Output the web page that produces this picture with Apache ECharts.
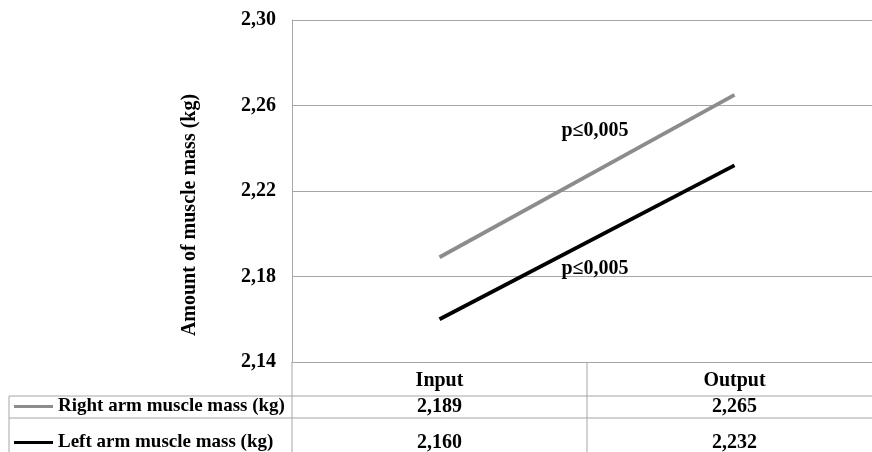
<!DOCTYPE html>
<html>
<head>
<meta charset="utf-8">
<script src="https://cdn.jsdelivr.net/npm/echarts@6/dist/echarts.min.js"></script>
<style>
html,body{margin:0;padding:0;background:#fff;overflow:hidden;}
#wrap{width:872px;height:452px;overflow:hidden;position:relative;}
#chart{width:882px;height:452px;position:absolute;left:0;top:0;}
</style>
</head>
<body>
<div id="wrap"><div id="chart"></div></div>
<script>
const categories = ['Input', 'Output'];
const seriesNames = ['Right arm muscle mass (kg)', 'Left arm muscle mass (kg)'];
const rightArm = [2.189, 2.265];
const leftArm = [2.160, 2.232];
const yMin = 2.14, yMax = 2.30, yStep = 0.04;
const yAxisTitle = 'Amount of muscle mass (kg)';
const annotText = ['p≤0,005', 'p≤0,005'];
const annotX = [0.527, 0.527];      // in category units (Input=0, Output=1)
const annotY = [2.248, 2.1835];

const FONT = '"Liberation Serif", "Times New Roman", serif';
const GRID_COLOR = '#a6a6a6';
const colors = ['#8c8c8c', '#000000'];
const fmt = (v, d) => v.toFixed(d).replace('.', ',');

const chart = echarts.init(document.getElementById('chart'), null, {renderer: 'canvas'});
const option = {
  animation: false,
  backgroundColor: '#ffffff',
  textStyle: {fontFamily: FONT},
  grid: {left: 292, right: 0, top: 20, bottom: 90, containLabel: false},
  legend: {
    orient: 'vertical', left: 14, top: 397, padding: 0,
    itemWidth: 39, itemHeight: 3, itemGap: 17, icon: 'rect',
    textStyle: {fontFamily: FONT, fontWeight: 'bold', fontSize: 19, color: '#000'},
    data: seriesNames
  },
  xAxis: [{
    type: 'category', data: categories, boundaryGap: true,
    axisLine: {show: true, onZero: false, lineStyle: {color: GRID_COLOR, width: 1}},
    axisTick: {show: false},
    axisLabel: {margin: 9, fontFamily: FONT, fontWeight: 'bold', fontSize: 20, color: '#000'},
    splitLine: {show: false}
  }, {
    type: 'value', min: -0.5, max: 1.5, show: false, position: 'top',
    axisLine: {show: false}, splitLine: {show: false}
  }],
  yAxis: {
    type: 'value', min: yMin, max: yMax, interval: yStep,
    axisLine: {show: true, onZero: false, lineStyle: {color: GRID_COLOR, width: 1}},
    axisTick: {show: false},
    axisLabel: {margin: 16, fontFamily: FONT, fontWeight: 'bold', fontSize: 20, color: '#000',
      formatter: v => fmt(v, 2)},
    splitLine: {show: true, lineStyle: {color: GRID_COLOR, width: 1}}
  },
  series: [{
    name: seriesNames[0], type: 'line', data: rightArm, symbol: 'none',
    lineStyle: {color: colors[0], width: 3.8}, itemStyle: {color: colors[0]}
  }, {
    name: seriesNames[1], type: 'line', data: leftArm, symbol: 'none',
    lineStyle: {color: colors[1], width: 3.8}, itemStyle: {color: colors[1]}
  }, {
    name: 'annotations', type: 'scatter', xAxisIndex: 1, symbolSize: 0,
    itemStyle: {opacity: 1},
    data: annotX.map((x, i) => ({value: [x, annotY[i]], name: annotText[i]})),
    label: {show: true, position: 'inside', formatter: p => p.name, opacity: 1,
      fontFamily: FONT, fontWeight: 'bold', fontSize: 20, color: '#000'},
    silent: true
  }]
};
chart.setOption(option);

// data table under the plot
const xPix = categories.map(c => chart.convertToPixel({xAxisIndex: 0}, c));
const yBottomAxis = chart.convertToPixel({yAxisIndex: 0}, yMin);
const plotLeft = 292, tableLeft = 9, tableRight = 882, tableBottom = 452;
const boundary = (xPix[0] + xPix[1]) / 2;
const rowTop1 = 396, rowTop2 = 418;
const rowCenters = [407, 443];
const line = (x1, y1, x2, y2) => ({type: 'line', silent: true,
  shape: {x1, y1, x2, y2}, style: {stroke: GRID_COLOR, lineWidth: 1}});
const g = [
  line(plotLeft, yBottomAxis, plotLeft, tableBottom),
  line(boundary, yBottomAxis, boundary, tableBottom),
  line(tableLeft, rowTop1, tableLeft, tableBottom),
  line(tableLeft, rowTop1, tableRight, rowTop1),
  line(tableLeft, rowTop2, tableRight, rowTop2),
  {type: 'text', x: 190, y: 215, rotation: Math.PI / 2, silent: true,
    style: {text: yAxisTitle, fill: '#000', font: 'bold 20px ' + FONT,
      textAlign: 'center', textVerticalAlign: 'middle'}}
];
[rightArm, leftArm].forEach((arr, r) => {
  arr.forEach((v, c) => {
    g.push({type: 'text', x: xPix[c], y: rowCenters[r], silent: true,
      style: {text: fmt(v, 3), fill: '#000', font: 'bold 20px ' + FONT,
        textAlign: 'center', textVerticalAlign: 'middle'}});
  });
});
chart.setOption({graphic: g});
</script>
</body>
</html>
